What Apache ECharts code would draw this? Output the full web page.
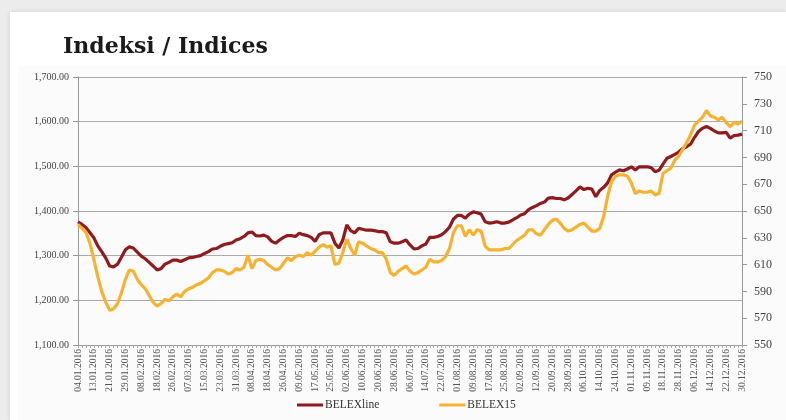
<!DOCTYPE html>
<html>
<head>
<meta charset="utf-8">
<script src="https://cdn.jsdelivr.net/npm/echarts@6/dist/echarts.min.js"></script>
<style>
  html, body { margin: 0; padding: 0; width: 786px; height: 420px; overflow: hidden; }
  #bg { position: absolute; left: 0; top: 0; width: 786px; height: 420px; background: #ececec; }
  #card { position: absolute; left: 10px; top: 12px; width: 776px; height: 408px; background: #fff;
          box-shadow: 0 0 5px rgba(0,0,0,0.12); }
  #plotbg { position: absolute; left: 18px; top: 66px; width: 768px; height: 354px; background: #fbfbfb; }
  #main { position: absolute; left: 0; top: 0; width: 786px; height: 420px; }
</style>
</head>
<body>
<div id="bg"></div>
<div id="card"></div>
<div id="plotbg"></div>
<div id="main"></div>
<script>
// tick labels shown on the x axis (every 4th point)
const tickLabels = [
  "04.01.2016", "13.01.2016", "21.01.2016", "29.01.2016", "08.02.2016", "18.02.2016",
  "26.02.2016", "07.03.2016", "15.03.2016", "23.03.2016", "31.03.2016", "08.04.2016",
  "18.04.2016", "26.04.2016", "09.05.2016", "17.05.2016", "25.05.2016", "02.06.2016",
  "10.06.2016", "20.06.2016", "28.06.2016", "06.07.2016", "14.07.2016", "22.07.2016",
  "01.08.2016", "09.08.2016", "17.08.2016", "25.08.2016", "02.09.2016", "12.09.2016",
  "20.09.2016", "28.09.2016", "06.10.2016", "14.10.2016", "24.10.2016", "01.11.2016",
  "09.11.2016", "18.11.2016", "28.11.2016", "06.12.2016", "14.12.2016", "22.12.2016",
  "30.12.2016"
];

// BELEXline, left axis
const belexline = [
  1376, 1370, 1363, 1352, 1340, 1322, 1309, 1295, 1277, 1275, 1281, 1297, 1313, 1320, 1317, 1308,
  1299, 1293, 1285, 1277, 1268, 1271, 1281, 1285, 1290, 1290, 1287, 1291, 1295, 1296, 1298, 1300,
  1305, 1309, 1315, 1316, 1321, 1325, 1327, 1329, 1335, 1338, 1343, 1351, 1353, 1345, 1344, 1346,
  1342, 1332, 1328, 1335, 1341, 1345, 1345, 1343, 1350, 1347, 1345, 1341, 1332, 1347, 1351, 1351,
  1351, 1328, 1317, 1335, 1369, 1356, 1351, 1361, 1359, 1357, 1357, 1356, 1354, 1354, 1351, 1331,
  1328, 1328, 1331, 1335, 1324, 1315, 1316, 1322, 1326, 1341, 1341, 1343, 1347, 1354, 1364, 1382,
  1390, 1390, 1384, 1393, 1398, 1396, 1393, 1376, 1373, 1374, 1376, 1373, 1373, 1375, 1380, 1385,
  1391, 1394, 1403, 1408, 1412, 1417, 1420, 1429, 1430, 1428, 1428, 1425, 1429, 1437, 1445, 1454,
  1448, 1451, 1449, 1432, 1446, 1453, 1463, 1481, 1487, 1492, 1490, 1494, 1499, 1492, 1499, 1499,
  1499, 1497, 1488, 1491, 1505, 1518, 1522, 1527, 1532, 1540, 1544, 1550, 1565, 1578, 1585, 1589,
  1585, 1579, 1575, 1575, 1576, 1563, 1569, 1570, 1572
];

// BELEX15, right axis
const belex15 = [
  640, 637, 634, 626, 614, 601, 590, 582, 576, 577, 581, 589, 599, 606, 605, 599,
  595, 592, 587, 582, 579, 581, 584, 583, 586, 588, 586, 590, 592, 593, 595, 596,
  598, 600, 604, 606, 606, 605, 603, 604, 607, 606, 608, 617, 607, 613, 614, 613,
  610, 608, 606, 607, 611, 615, 613, 616, 617, 616, 619, 617, 620, 623, 625, 623,
  624, 610, 611, 619, 629, 622, 617, 627, 626, 624, 622, 621, 619, 619, 614, 604,
  602, 605, 607, 609, 605, 603, 604, 606, 608, 614, 612, 612, 613, 616, 622, 634,
  639, 639, 631, 636, 632, 636, 635, 624, 621, 621, 621, 621, 622, 622, 625, 628,
  630, 632, 636, 636, 633, 632, 636, 640, 643, 644, 641, 637, 635, 636, 638, 640,
  641, 638, 635, 635, 637, 646, 661, 672, 676, 677, 677, 676, 671, 663, 665, 664,
  664, 665, 662, 663, 678, 680, 682, 688, 691, 696, 701, 707, 714, 717, 720, 725,
  721, 720, 718, 720, 716, 713, 716, 715, 717
];

const points = belexline.map((v, i) => i);
const serif = "'Liberation Serif', 'DejaVu Serif', serif";

const chart = echarts.init(document.getElementById("main"), null, { renderer: "canvas" });
chart.setOption({
  backgroundColor: "transparent",
  animation: false,
  title: {
    text: "Indeksi / Indices",
    left: 58,
    top: 31,
    textStyle: { fontFamily: "'DejaVu Serif', serif", fontWeight: "bold", fontSize: 22, color: "#1a1a1a" }
  },
  legend: {
    left: 292,
    top: 394,
    itemGap: 60,
    itemWidth: 26,
    itemHeight: 3,
    icon: "rect",
    textStyle: { fontFamily: serif, fontSize: 11.5, color: "#333", padding: [0, 0, 0, -3] },
    data: ["BELEXline", "BELEX15"]
  },
  grid: { left: 78, right: 44, top: 77, bottom: 75 },
  xAxis: {
    type: "category",
    boundaryGap: false,
    data: points,
    axisLine: { lineStyle: { color: "#999", width: 1 } },
    axisTick: { show: true, interval: 0, length: 3, lineStyle: { color: "#aaa" } },
    axisLabel: {
      interval: 3,
      rotate: 90,
      margin: 4,
      fontFamily: serif,
      fontSize: 9.5,
      color: "#555",
      formatter: (v, i) => tickLabels[i / 4] || ""
    },
    splitLine: { show: false }
  },
  yAxis: [
    {
      type: "value",
      min: 1100,
      max: 1700,
      interval: 100,
      position: "left",
      axisLine: { show: true, lineStyle: { color: "#999" } },
      axisTick: { show: true, length: 5, lineStyle: { color: "#999" } },
      axisLabel: {
        margin: 9,
        fontFamily: serif,
        fontSize: 10,
        color: "#444",
        formatter: (v) => v.toLocaleString("en-US", { minimumFractionDigits: 2, maximumFractionDigits: 2 })
      },
      splitLine: { show: true, lineStyle: { color: "#aaa", width: 1 } }
    },
    {
      type: "value",
      min: 550,
      max: 750,
      interval: 20,
      position: "right",
      axisLine: { show: true, lineStyle: { color: "#999" } },
      axisTick: { show: true, length: 5, lineStyle: { color: "#999" } },
      axisLabel: { margin: 12, fontFamily: serif, fontSize: 12, color: "#444" },
      splitLine: { show: false }
    }
  ],
  series: [
    {
      name: "BELEXline",
      type: "line",
      yAxisIndex: 0,
      data: belexline,
      symbol: "none",
      color: "#8e1b1d",
      lineStyle: { width: 3.2, color: "#8e1b1d" }
    },
    {
      name: "BELEX15",
      type: "line",
      yAxisIndex: 1,
      data: belex15,
      symbol: "none",
      color: "#f8b232",
      lineStyle: { width: 3.2, color: "#f8b232" }
    }
  ]
});
</script>
</body>
</html>
